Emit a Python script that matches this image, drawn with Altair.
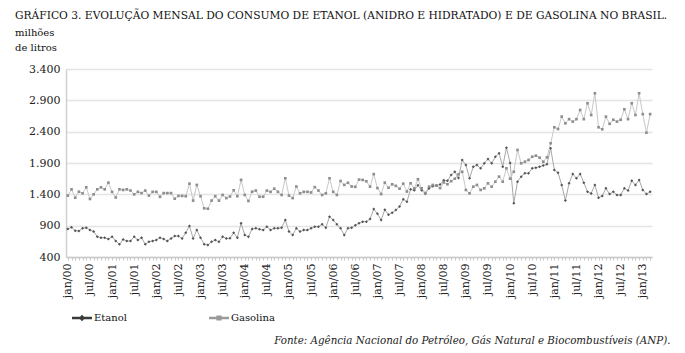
import altair as alt
import pandas as pd

meses_pt = ["jan", "fev", "mar", "abr", "mai", "jun", "jul", "ago", "set", "out", "nov", "dez"]
meses = [f"{m}/{a:02d}" for a in range(0, 14) for m in meses_pt][:159]

etanol = [
    847, 874, 820, 815, 858, 868, 830, 805, 724, 708, 708, 686,
    724, 655, 602, 681, 655, 655, 724, 670, 708, 602, 644, 655,
    670, 708, 686, 655, 697, 734, 734, 697, 788, 895, 697, 830,
    708, 602, 591, 644, 670, 644, 724, 697, 700, 785, 708, 938,
    751, 724, 847, 858, 842, 830, 884, 830, 858, 858, 868, 990,
    805, 751, 858, 805, 830, 830, 858, 884, 884, 922, 868, 1043,
    990, 922, 858, 751, 858, 868, 905, 940, 964, 964, 1005, 1165,
    1090, 990, 1155, 1075, 1105, 1150, 1207, 1320, 1282, 1480, 1465, 1545,
    1465, 1410, 1495, 1530, 1540, 1555, 1625, 1615, 1710, 1760, 1660, 1948,
    1868, 1656, 1840, 1868, 1815, 1895, 1964, 1895, 2000, 2055, 1840, 2145,
    1900, 1257, 1602, 1682, 1736, 1736, 1815, 1825, 1840, 1860, 1880, 2135,
    1790, 1745, 1550, 1300, 1576, 1725, 1655, 1725, 1586, 1442, 1415, 1550,
    1346, 1375, 1496, 1405, 1442, 1390, 1390, 1496, 1460, 1618, 1550, 1630,
    1470, 1405, 1442,
]

gasolina = [
    1380, 1480, 1346, 1442, 1416, 1512, 1326, 1400, 1480, 1512, 1480, 1586,
    1440, 1350, 1480, 1470, 1480, 1460, 1400, 1440, 1420, 1460, 1380, 1440,
    1440, 1360, 1420, 1420, 1420, 1330, 1375, 1375, 1370, 1570, 1300, 1550,
    1370, 1177, 1170, 1300, 1370, 1300, 1390, 1340, 1366, 1465, 1370, 1630,
    1390, 1294, 1442, 1460, 1362, 1362, 1460, 1440, 1490, 1440, 1390, 1656,
    1380, 1340, 1525, 1416, 1440, 1440, 1430, 1515, 1460, 1390, 1416, 1656,
    1440, 1390, 1613, 1550, 1585, 1525, 1520, 1635, 1630, 1608, 1523, 1722,
    1500, 1405, 1586, 1505, 1560, 1535, 1490, 1570, 1445, 1576, 1496, 1640,
    1496, 1420, 1522, 1550, 1540, 1500, 1590, 1560, 1610, 1650, 1720, 1760,
    1470, 1416, 1522, 1550, 1470, 1496, 1576, 1522, 1602, 1682, 1602, 1815,
    1650, 1760, 2108, 1895, 1920, 1948, 2000, 2017, 1985, 1920, 1990, 2215,
    2470, 2443, 2640, 2533, 2600, 2560, 2600, 2746, 2600, 2853, 2666, 3013,
    2470, 2438, 2640, 2525, 2590, 2560, 2590, 2757, 2600, 2853, 2666, 3013,
    2680, 2384, 2680,
]

series = ["Etanol", "Gasolina"]
y_ticks = [400, 900, 1400, 1900, 2400, 2900, 3400]

titulo = "GRÁFICO 3. EVOLUÇÃO MENSAL DO CONSUMO DE ETANOL (ANIDRO E HIDRATADO) E DE GASOLINA NO BRASIL."
subtitulo = ["milhões", "de litros"]
fonte = "Fonte: Agência Nacional do Petróleo, Gás Natural e Biocombustíveis (ANP)."

rows = []
for s, vals in zip(series, [etanol, gasolina]):
    for m, v in zip(meses, vals):
        rows.append({"mes": m, "serie": s, "valor": v})
df = pd.DataFrame(rows)

FONT = "DejaVu Serif"

x_enc = alt.X(
    "mes:O",
    sort=meses,
    scale=alt.Scale(type="point", padding=0.5),
    axis=alt.Axis(
        labelExpr="(substring(datum.label,0,3) == 'jan' || substring(datum.label,0,3) == 'jul') ? datum.label : ''",
        labelAngle=270,
        labelOverlap=False,
        labelPadding=3,
        labelFont=FONT,
        labelFontSize=11,
        labelColor="#222222",
        tickSize=3,
        tickColor="#c8c8c8",
        domainColor="#c8c8c8",
        domainWidth=1.5,
        grid=False,
        title=fonte,
        titleFont=FONT,
        titleFontSize=10.3,
        titleFontStyle="italic",
        titleFontWeight="normal",
        titleColor="#222222",
        titleAlign="right",
        titleBaseline="alphabetic",
        titleX=604,
        titleY=86,
    ),
)
y_enc = alt.Y(
    "valor:Q",
    scale=alt.Scale(domain=[400, 3400], nice=False),
    axis=alt.Axis(
        values=y_ticks,
        labelExpr="replace(format(datum.value, ','), ',', '.')",
        labelFont=FONT,
        labelFontSize=11,
        labelColor="#222222",
        labelPadding=6,
        ticks=False,
        domainColor="#d0d0d0",
        domainWidth=1.5,
        gridColor="#e4e4e4",
        gridWidth=1.5,
        title=None,
    ),
)

base = alt.Chart(df).encode(x=x_enc, y=y_enc)

et = base.transform_filter(alt.datum.serie == "Etanol")
ga = base.transform_filter(alt.datum.serie == "Gasolina")

line_et = et.mark_line(strokeWidth=1, color="#a8a8a8")
line_ga = ga.mark_line(strokeWidth=1, color="#c8c8c8")
pts_et = et.mark_point(filled=True, size=9, opacity=1, shape="diamond", color="#555555")
pts_ga = ga.mark_point(filled=True, size=7, opacity=1, shape="square", color="#8e8e8e")

legend_shapes = [
    "M-1,-0.12H1V0.12H-1Z M0,-0.32L0.32,0L0,0.32L-0.32,0Z",
    "M-1,-0.12H1V0.12H-1Z M-0.26,-0.26H0.26V0.26H-0.26Z",
]

leg = alt.Legend(
    title=None,
    orient="none",
    direction="horizontal",
    legendX=6,
    legendY=239,
    symbolSize=400,
    symbolStrokeWidth=0,
    symbolOpacity=1,
    labelFont=FONT,
    labelFontSize=10,
    labelColor="#111111",
    labelOffset=2,
    columnPadding=82,
)

legend_layer = base.transform_filter("false").mark_point(filled=True, opacity=1).encode(
    fill=alt.Fill("serie:N", scale=alt.Scale(domain=series, range=["#3a3a3a", "#9a9a9a"]), legend=leg),
    shape=alt.Shape("serie:N", scale=alt.Scale(domain=series, range=legend_shapes), legend=leg),
)

chart = (
    alt.layer(line_et, line_ga, pts_et, pts_ga, legend_layer)
    .properties(
        width=586,
        height=188,
        autosize=alt.AutoSizeParams(type="none"),
        padding={"left": 66, "top": 69, "right": 33, "bottom": 96},
        title=alt.TitleParams(
            text=titulo,
            subtitle=subtitulo,
            anchor="start",
            frame="group",
            dx=-51,
            offset=9,
            font=FONT,
            fontSize=10.7,
            fontWeight="normal",
            color="#111111",
            subtitleFont=FONT,
            subtitleFontSize=10,
            subtitleColor="#111111",
            subtitlePadding=6,
            subtitleLineHeight=15,
        ),
        background="white",
    )
    .configure_view(stroke=None)
)

chart.save("out.html", embed_options={"renderer": "svg", "actions": False})
